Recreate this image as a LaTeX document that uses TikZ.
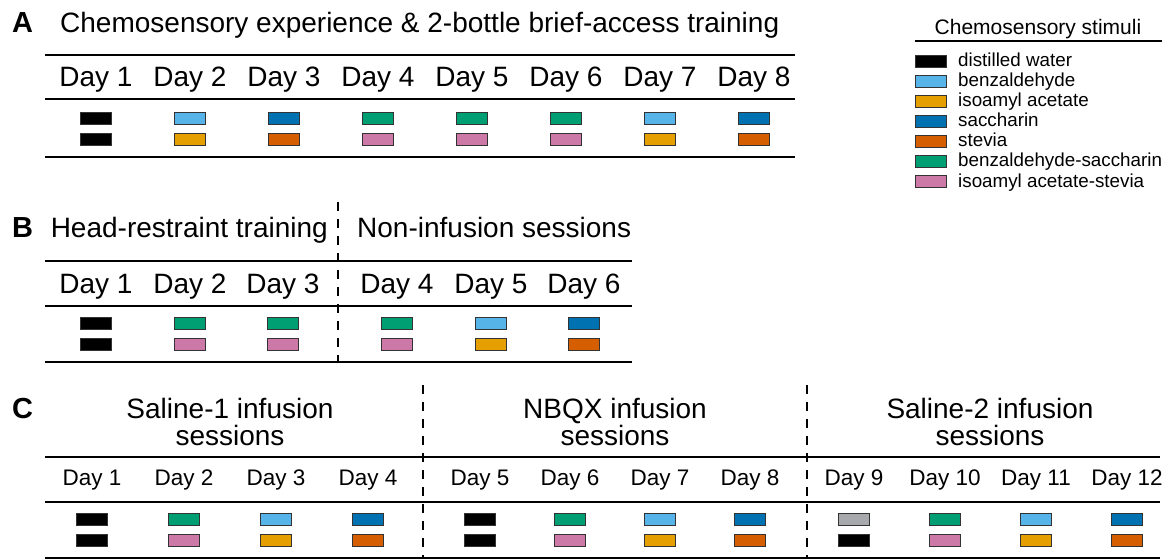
\documentclass[tikz,border=0pt]{standalone}
\usepackage{fontspec}
\setmainfont{Liberation Sans}
\definecolor{cblack}{HTML}{000000}
\definecolor{csky}{HTML}{56B4E9}
\definecolor{corange}{HTML}{E69F00}
\definecolor{cblue}{HTML}{0072B2}
\definecolor{cverm}{HTML}{D55E00}
\definecolor{cgreen}{HTML}{009E73}
\definecolor{cpink}{HTML}{CC79A7}
\definecolor{cgray}{HTML}{A7A9AC}
\begin{document}
\begin{tikzpicture}[x=1pt,y=-1pt,
  swatch/.style={draw=black!80, line width=0.9pt, minimum width=31pt, minimum height=12pt, inner sep=0pt, fill=#1},
  rule/.style={line width=1.8pt},
  divider/.style={line width=1.3pt, dash pattern=on 9pt off 8pt},
  big/.style={font=\fontsize{28}{30}\selectfont, inner sep=0pt},
  panel/.style={font=\fontsize{29}{30}\selectfont\bfseries, inner sep=0pt, anchor=base west},
  daylab/.style={big, anchor=base},
  smallday/.style={font=\fontsize{22.5}{24}\selectfont, inner sep=0pt, anchor=base},
  legtext/.style={font=\fontsize{18.8}{20}\selectfont, inner sep=0pt, anchor=base west},
]
\useasboundingbox[fill=white] (0,0) rectangle (1173,559);

% ---------- Panel A ----------
\node[panel] (A) at (12,33) {A};
\node[big, anchor=base west] (atitle) at (60,33) {Chemosensory experience \& 2-bottle brief-access training};
\draw[rule] (45,55) -- (795,55);
\draw[rule] (45,99) -- (795,99);
\draw[rule] (45,157) -- (795,157);
\foreach \t/\b [count=\i] in {cblack/cblack, csky/corange, cblue/cverm, cgreen/cpink, cgreen/cpink, cgreen/cpink, csky/corange, cblue/cverm} {
  \node[daylab] (ad\i) at ({96+94*(\i-1)},87) {Day \i};
  \node[swatch=\t] (at\i) at ({96+94*(\i-1)},118) {};
  \node[swatch=\b] (ab\i) at ({96+94*(\i-1)},139) {};
}

% ---------- Legend ----------
\node[font=\fontsize{21}{23}\selectfont, inner sep=0pt, anchor=base] (legtitle) at (1038,35) {Chemosensory stimuli};
\draw[rule] (915,41) -- (1162,41);
\foreach \c/\txt [count=\i] in {cblack/distilled water, csky/benzaldehyde, corange/isoamyl acetate, cblue/saccharin, cverm/stevia, cgreen/benzaldehyde-saccharin, cpink/isoamyl acetate-stevia} {
  \node[swatch=\c] (l\i) at (931,{61+20*(\i-1)}) {};
  \node[legtext] (lt\i) at (958,{67+20*(\i-1)}) {\txt};
}

% ---------- Panel B ----------
\node[panel] (B) at (12,237) {B};
\node[big, anchor=base east] (btitle1) at (328,237) {Head-restraint training};
\node[big, anchor=base west] (btitle2) at (357,237) {Non-infusion sessions};
\draw[divider] (338,202) -- (338,362);
\draw[rule] (45,261) -- (632,261);
\draw[rule] (45,306) -- (632,306);
\draw[rule] (45,362) -- (632,362);
\foreach \x/\t/\b [count=\i] in {96/cblack/cblack, 190/cgreen/cpink, 283/cgreen/cpink, 397/cgreen/cpink, 491/csky/corange, 584/cblue/cverm} {
  \node[daylab] (bd\i) at (\x,293) {Day \i};
  \node[swatch=\t] (bt\i) at (\x,323) {};
  \node[swatch=\b] (bb\i) at (\x,344) {};
}

% ---------- Panel C ----------
\node[panel] (C) at (12,418) {C};
\node[big, anchor=base] (c1a) at (230,418) {Saline-1 infusion};
\node[big, anchor=base] (c1b) at (230,445) {sessions};
\node[big, anchor=base] (c2a) at (615,418) {NBQX infusion};
\node[big, anchor=base] (c2b) at (615,445) {sessions};
\node[big, anchor=base] (c3a) at (990,418) {Saline-2 infusion};
\node[big, anchor=base] (c3b) at (990,445) {sessions};
\draw[divider] (423,385) -- (423,559);
\draw[divider] (807,385) -- (807,559);
\draw[rule] (45,457) -- (1160,457);
\draw[rule] (45,502) -- (1160,502);
\draw[rule] (45,558) -- (1160,558);
\foreach \x/\t/\b [count=\i] in {92/cblack/cblack, 184/cgreen/cpink, 276/csky/corange, 368/cblue/cverm, 480/cblack/cblack, 570/cgreen/cpink, 660/csky/corange, 750/cblue/cverm, 854/cgray/cblack, 945/cgreen/cpink, 1036/csky/corange, 1127/cblue/cverm} {
  \node[smallday] (cd\i) at (\x,485) {Day \i};
  \node[swatch=\t] (ct\i) at (\x,519) {};
  \node[swatch=\b] (cb\i) at (\x,540) {};
}
\end{tikzpicture}
\end{document}
